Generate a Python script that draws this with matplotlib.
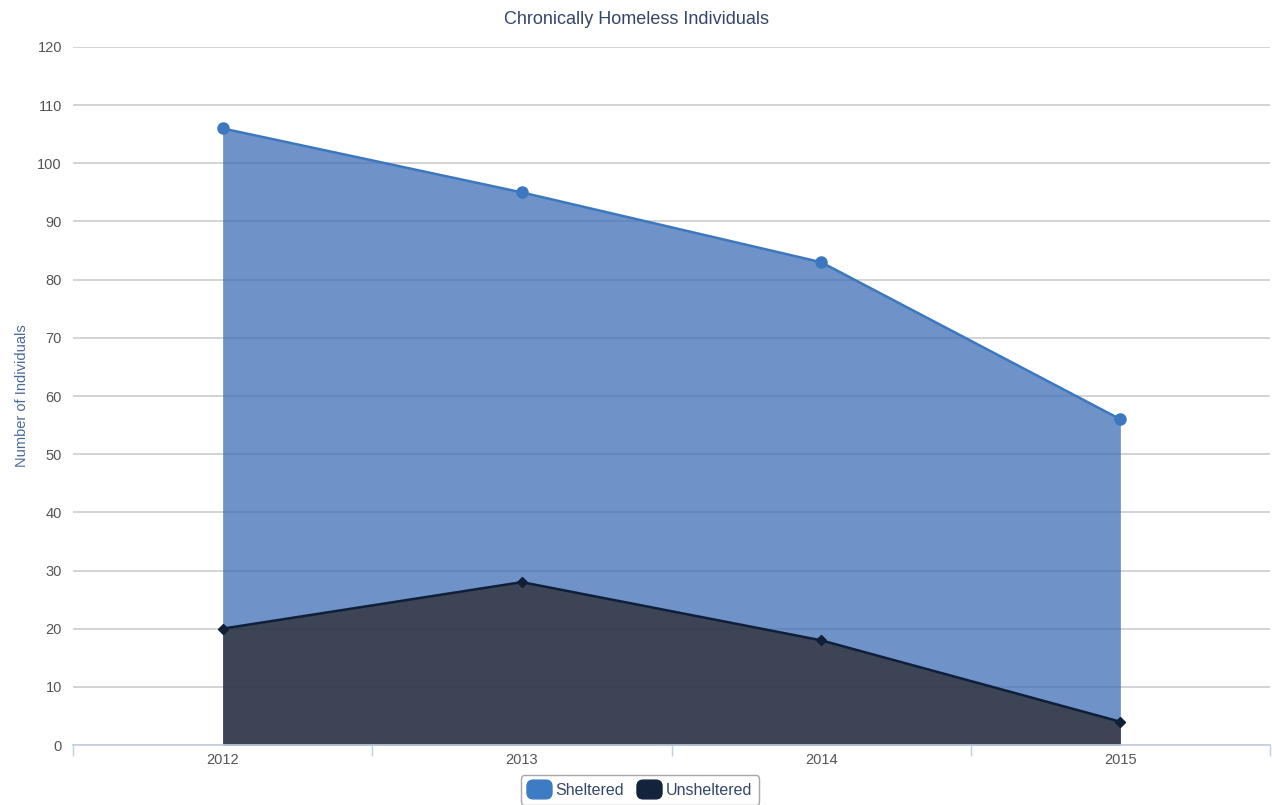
import matplotlib
matplotlib.use("Agg")
import matplotlib.pyplot as plt
import matplotlib.patches as mpatches
from matplotlib.lines import Line2D

years = ["2012", "2013", "2014", "2015"]
sheltered = [106, 95, 83, 56]
unsheltered = [20, 28, 18, 4]

plt.rcParams['font.family'] = ['Liberation Sans', 'DejaVu Sans']

blue_line = "#3b78c0"
blue_fill = "#3f6fb7"
dark_line = "#0f1f38"
dark_fill = "#2c2a30"
grid_col = "#c8c8c8"
tick_col = "#555555"

fig = plt.figure(figsize=(12.72, 8.05), dpi=100)
ax = fig.add_axes([73 / 1272, 60 / 805, 1197 / 1272, 698 / 805])

x = list(range(len(years)))

ax.fill_between(x, 0, sheltered, color=blue_fill, alpha=0.75, lw=0, zorder=2)
ax.plot(x, sheltered, color=blue_line, lw=1.8, marker="o", ms=8, zorder=4)
ax.fill_between(x, 0, unsheltered, color=dark_fill, alpha=0.75, lw=0, zorder=3)
ax.plot(x, unsheltered, color=dark_line, lw=1.8, marker="D", ms=5, zorder=5)

ax.set_xlim(-0.5, 3.5)
ax.set_ylim(0, 120)
ax.set_yticks(range(0, 121, 10))
ax.set_xticks(x)
ax.set_xticklabels(years)
ax.set_xticks([-0.5, 0.5, 1.5, 2.5, 3.5], minor=True)

ax.grid(axis="y", color=grid_col, lw=1.1, zorder=0)
ax.set_axisbelow(True)
for side in ["top", "right", "left"]:
    ax.spines[side].set_visible(False)
ax.spines["bottom"].set_color("#c0d0e0")
ax.spines["bottom"].set_linewidth(1.2)
ax.spines["bottom"].set_zorder(6)

ax.tick_params(axis="y", length=0, pad=8, labelsize=10.5, labelcolor=tick_col)
ax.tick_params(axis="x", which="major", length=0, pad=6, labelsize=10.5,
               labelcolor=tick_col)
ax.tick_params(axis="x", which="minor", length=8, width=1, color="#c0d0e0")

ax.set_ylabel("Number of Individuals", color="#4a6a9a", fontsize=10.5,
              labelpad=6)
fig.text(0.5, 1 - 20 / 805, "Chronically Homeless Individuals",
         ha="center", va="center", fontsize=13, color="#34456a")

# rounded square swatch for the legend entries
box = mpatches.FancyBboxPatch((-1, -0.75), 2, 1.5,
                              boxstyle="round,pad=0,rounding_size=0.5")
swatch = box.get_path()
handles = [
    Line2D([], [], ls="", marker=swatch, ms=18, color="#3d7cc4"),
    Line2D([], [], ls="", marker=swatch, ms=18, color="#13233c"),
]
leg = fig.legend(handles, ["Sheltered", "Unsheltered"], loc="center",
                 bbox_to_anchor=(640 / 1272, 1 - 790 / 805), ncol=2,
                 frameon=True, fancybox=True, fontsize=11.5,
                 handlelength=1.3, handletextpad=0.4, columnspacing=0.9,
                 borderpad=0.45)
leg.get_frame().set_edgecolor("#909090")
leg.get_frame().set_linewidth(1)
for t in leg.get_texts():
    t.set_color("#34476a")

fig.savefig("out.png", dpi=100)
